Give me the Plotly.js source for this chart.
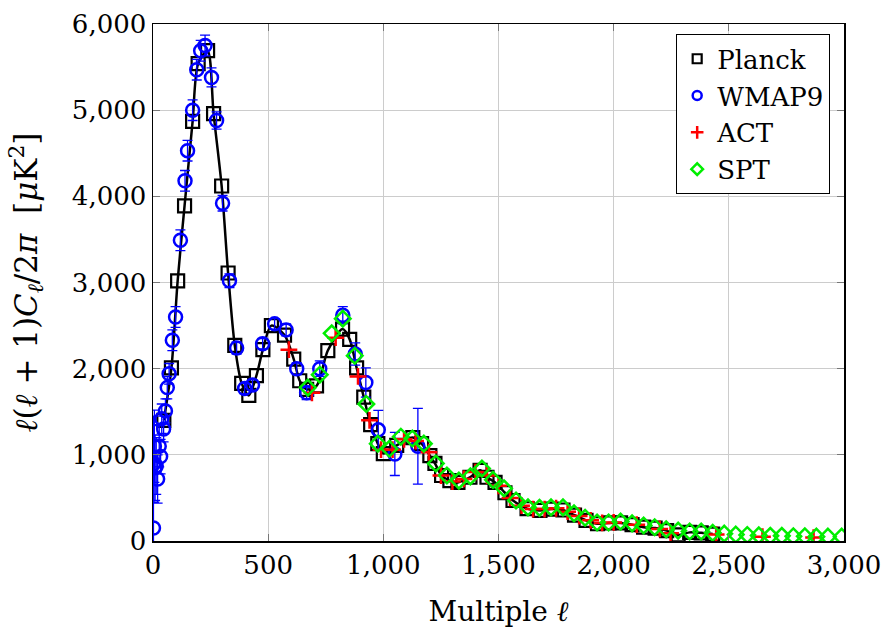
<!DOCTYPE html>
<html>
<head>
<meta charset="utf-8">
<script src="https://cdn.plot.ly/plotly-3.0.1.min.js"></script>
<style>html,body{margin:0;padding:0;background:#fff;}#chart{width:888px;height:633px;}</style>
</head>
<body>
<div id="chart"></div>
<script>
// Planck
const planckL = [47, 80, 107, 137, 172, 196, 237, 263, 298, 326, 355, 385, 416, 449, 477, 514, 571, 611, 637, 667, 710, 759, 823, 854, 884, 915, 945, 976, 1000, 1058, 1128, 1166, 1202, 1224, 1253, 1289, 1324, 1376, 1420, 1450, 1485, 1528, 1563, 1624, 1680, 1730, 1780, 1830, 1880, 1930, 1980, 2030, 2080, 2130, 2180, 2230, 2280, 2330, 2380, 2430];
const planckD = [1400, 2010, 3020, 3890, 4870, 5540, 5690, 4960, 4120, 3110, 2270, 1830, 1690, 1920, 2220, 2500, 2390, 2110, 1860, 1760, 1800, 2210, 2460, 2340, 2010, 1670, 1350, 1130, 1015, 1110, 1200, 1130, 990, 900, 760, 700, 680, 740, 820, 740, 680, 560, 470, 375, 355, 370, 360, 300, 240, 200, 210, 210, 190, 160, 150, 120, 70, 100, 95, 80];

// WMAP9
const wmapL = [2, 4, 6, 9, 14, 20, 27, 33, 38, 46, 54, 62, 70, 84, 98, 119, 139, 150, 172, 190, 207, 226, 254, 276, 302, 332, 363, 398, 432, 476, 528, 578, 624, 667, 724, 824, 878, 924, 978, 1050, 1150];
const wmapD = [150, 900, 1100, 850, 870, 720, 1100, 980, 1420, 1300, 1510, 1780, 1940, 2330, 2600, 3490, 4180, 4530, 5000, 5470, 5690, 5750, 5380, 4880, 3920, 3020, 2240, 1770, 1810, 2290, 2520, 2450, 2000, 1720, 2000, 2620, 2170, 1840, 1290, 1010, 1100];
const wmapErr = [1300, 450, 420, 380, 330, 280, 240, 200, 170, 150, 140, 130, 120, 120, 120, 120, 120, 120, 120, 120, 120, 120, 110, 100, 90, 80, 70, 60, 60, 60, 60, 70, 70, 80, 90, 100, 130, 170, 225, 250, 440];

// ACT
const actL = [590, 690, 793, 890, 940, 990, 1040, 1090, 1140, 1198, 1250, 1300, 1350, 1400, 1450, 1500, 1550, 1600, 1650, 1700, 1750, 1800, 1850, 1900, 1950, 2000, 2100, 2200, 2247, 2445, 2646, 2868];
const actD = [2220, 1720, 2360, 1910, 1400, 1060, 1060, 1180, 1160, 1030, 760, 690, 720, 800, 760, 640, 500, 410, 370, 370, 380, 340, 290, 240, 210, 215, 190, 140, 90, 75, 50, 40];

// SPT
const sptL = [672, 724, 776, 824, 876, 926, 976, 1026, 1076, 1126, 1176, 1228, 1276, 1328, 1378, 1428, 1476, 1524, 1576, 1628, 1678, 1728, 1780, 1828, 1876, 1928, 1978, 2030, 2080, 2130, 2178, 2228, 2280, 2330, 2380, 2430, 2480, 2530, 2580, 2630, 2680, 2730, 2780, 2830, 2880, 2930, 2990];
const sptD = [1780, 1930, 2410, 2580, 2150, 1590, 1130, 1070, 1210, 1190, 1130, 900, 760, 700, 750, 840, 710, 610, 470, 390, 385, 390, 390, 320, 270, 215, 215, 225, 205, 180, 160, 135, 120, 110, 110, 95, 85, 75, 70, 65, 60, 60, 55, 55, 50, 50, 50];

const seriesNames = ['Planck', 'WMAP9', 'ACT', 'SPT'];

const FONT = 'DejaVu Serif';
const BLUE = '#0000ff', RED = '#ff0000', GREEN = '#00ee00';

const traces = [
  {x: planckL, y: planckD, mode: 'lines', line: {color: '#000', width: 2.5, shape: 'spline', smoothing: 0.8}, showlegend: false, hoverinfo: 'skip'},
  {x: planckL, y: planckD, mode: 'markers', showlegend: false,
   marker: {symbol: 'square-open', size: 13, color: '#000', line: {width: 2.2}}},
  {x: wmapL, y: wmapD, mode: 'markers', showlegend: false,
   error_y: {type: 'data', array: wmapErr, visible: true, color: BLUE, thickness: 1.3, width: 5},
   marker: {symbol: 'circle-open', size: 13, color: BLUE, line: {width: 2.5}}},
  {x: actL, y: actD, mode: 'markers', showlegend: false,
   marker: {symbol: 'cross-thin-open', size: 12, color: RED, line: {width: 2.5, color: RED}}},
  {x: sptL, y: sptD, mode: 'markers', showlegend: false,
   marker: {symbol: 'diamond-open', size: 12, color: GREEN, line: {width: 2.5}}},
  // legend entries (smaller symbols as in the reference)
  {x: [null], y: [null], mode: 'markers', name: seriesNames[0], legendgroup: 'a',
   marker: {symbol: 'square-open', size: 9, color: '#000', line: {width: 2.2}}},
  {x: [null], y: [null], mode: 'markers', name: seriesNames[1], legendgroup: 'b',
   marker: {symbol: 'circle-open', size: 9, color: BLUE, line: {width: 2.5}}},
  {x: [null], y: [null], mode: 'markers', name: seriesNames[2], legendgroup: 'c',
   marker: {symbol: 'cross-thin-open', size: 9, color: RED, line: {width: 2.5, color: RED}}},
  {x: [null], y: [null], mode: 'markers', name: seriesNames[3], legendgroup: 'd',
   marker: {symbol: 'diamond-open', size: 9, color: GREEN, line: {width: 2.5}}}
];

const layout = {
  width: 888, height: 633,
  margin: {l: 153, r: 44, t: 24, b: 92},
  paper_bgcolor: '#fff', plot_bgcolor: '#fff',
  font: {family: FONT, size: 26, color: '#000'},
  showlegend: true,
  legend: {x: 0.98, y: 0.98, xanchor: 'right', yanchor: 'top', bgcolor: '#fff',
           bordercolor: '#000', borderwidth: 1, tracegroupgap: 0, itemwidth: 30,
           font: {family: FONT, size: 26}},
  xaxis: {range: [0, 3000], dtick: 500, tick0: 0, tickformat: ',d', showgrid: true, gridcolor: '#cccccc', gridwidth: 1,
          showline: true, linecolor: '#000', linewidth: 1.5, mirror: 'ticks', ticks: 'inside', ticklen: 7, tickcolor: '#777',
          zeroline: false, tickfont: {family: FONT, size: 26},
          title: {text: 'Multiple <i>ℓ</i>', font: {family: FONT, size: 28}, standoff: 22}},
  yaxis: {range: [0, 6000], dtick: 1000, tick0: 0, tickformat: ',d', showgrid: true, gridcolor: '#cccccc', gridwidth: 1,
          showline: true, linecolor: '#000', linewidth: 1.5, mirror: 'ticks', ticks: 'inside', ticklen: 7, tickcolor: '#777',
          zeroline: false, tickfont: {family: FONT, size: 26},
          title: {text: '<i>ℓ</i>(<i>ℓ</i> + 1)<i>C<sub>ℓ</sub></i>/2<i>π</i>  [<i>μ</i>K<sup>2</sup>]', font: {family: FONT, size: 31}, standoff: 25}}
};

Plotly.newPlot('chart', traces, layout, {displayModeBar: false, staticPlot: true});
</script>
</body>
</html>
